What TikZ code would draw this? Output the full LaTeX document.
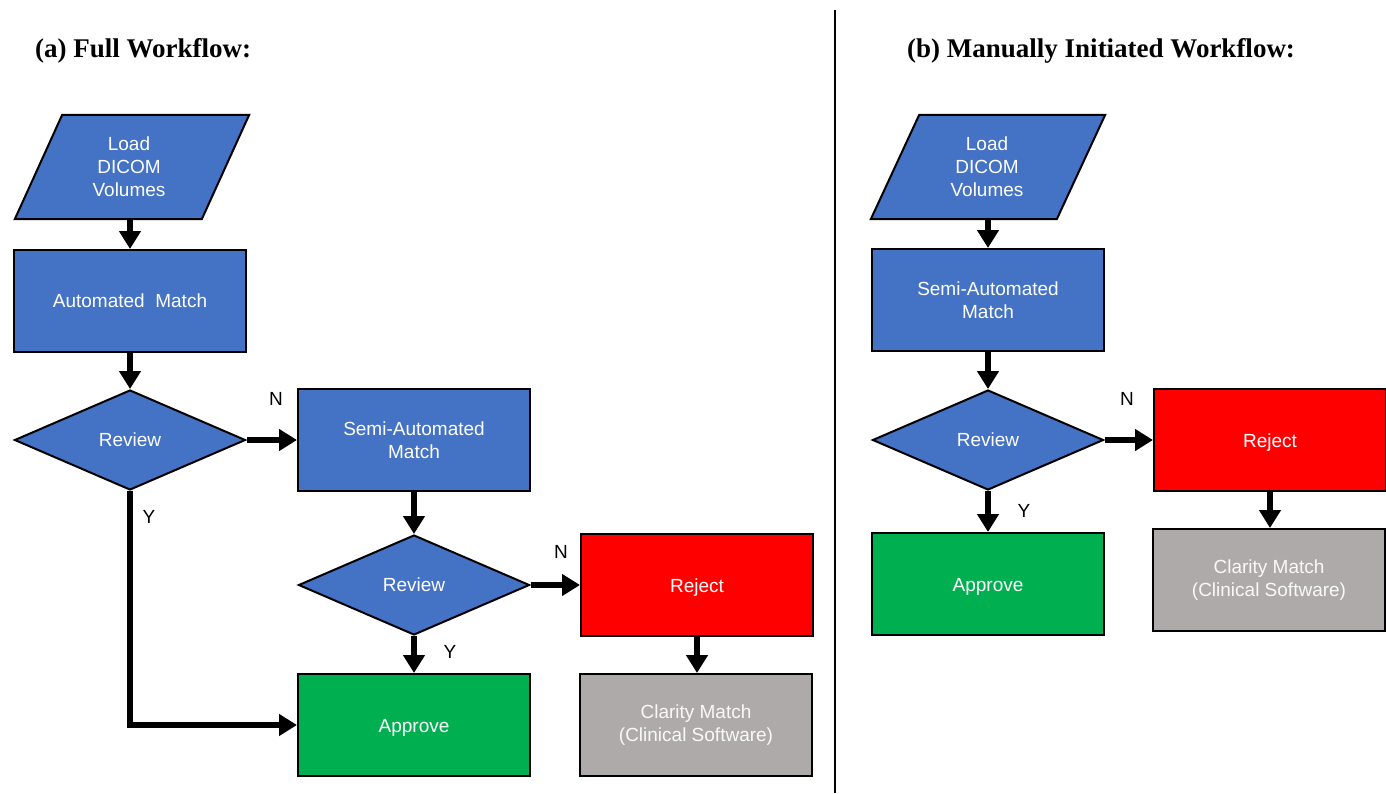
\documentclass[tikz,border=0pt]{standalone}
\usepackage{fontspec}
\setmainfont{Liberation Sans}
\newfontfamily\titlefont{Liberation Serif}
\usetikzlibrary{arrows.meta,shapes.geometric}
\definecolor{fblue}{HTML}{4472C4}
\definecolor{fgreen}{HTML}{00B050}
\definecolor{fred}{HTML}{FF0000}
\definecolor{fgray}{HTML}{AEAAAA}
\newcommand{\onel}[1]{\raisebox{-7pt}[0pt][0pt]{#1}}
\begin{document}
\begin{tikzpicture}[x=1pt,y=-1pt,
  txt/.style={font=\fontsize{19}{23}\selectfont, text=white, align=center},
  box/.style={txt, draw=black, line width=2pt, rectangle, inner sep=0pt, minimum width=232pt, minimum height=102pt},
  bluebox/.style={box, fill=fblue},
  greenbox/.style={box, fill=fgreen},
  redbox/.style={box, fill=fred},
  graybox/.style={box, fill=fgray, text=white!95!gray},
  decision/.style={txt, draw=black, line width=2pt, diamond, inner sep=0pt, fill=fblue, minimum width=231pt, minimum height=100pt},
  iobox/.style={txt, inner sep=0pt, minimum width=234pt, minimum height=104pt},
  para/.style={draw=black, line width=2pt, fill=fblue, line join=miter},
  flow/.style={line width=6pt, -{Triangle[width=21pt,length=18pt]}},
  lbl/.style={font=\fontsize{19}{22}\selectfont, text=black, inner sep=0pt},
  ttl/.style={font=\titlefont\bfseries\fontsize{27}{30}\selectfont, anchor=west, inner sep=0pt}
]
\useasboundingbox (0,0) rectangle (1386,793);

% titles and divider
\node[ttl] (ta) at (35,51) {(a) Full Workflow:};
\node[ttl] (tb) at (907,51) {(b) Manually Initiated Workflow:};
\coordinate (dtop) at (835,10);
\coordinate (dbot) at (835,793);
\draw[line width=2pt] (dtop) -- (dbot);

% ---------- (a) ----------
\node[iobox] (load) at (132,167) {};
\draw[para] (load.south west) -- ++(187,0) -- (load.north east) -- ++(-187,0) -- cycle;
\node[txt] (loadt) at (129,167) {Load\\DICOM\\Volumes};
\node[bluebox] (auto) at (130,301) {Automated~~Match};
\node[decision] (rev1) at (130,440) {Review};
\node[bluebox] (semi) at (414,440) {Semi-Automated\\Match};
\node[decision] (rev2) at (414,585) {Review};
\node[redbox] (rej) at (697,585) {\onel{Reject}};
\node[greenbox] (appr) at (414,725) {\onel{Approve}};
\node[graybox] (clar) at (696,725) {Clarity Match\\(Clinical Software)};

\draw[flow] (load.south -| auto.north) -- (auto.north);
\draw[flow] (auto.south) -- (rev1.north);
\draw[flow] (rev1.east) -- (semi.west);
\draw[flow] (semi.south) -- (rev2.north);
\draw[flow] (rev2.east) -- (rej.west);
\draw[flow] (rev2.south) -- (appr.north);
\draw[flow] (rej.south) -- (clar.north -| rej.south);
\draw[flow] (rev1.south) |- (appr.west);

\node[lbl] (n1) at (276,399) {N};
\node[lbl] (y1) at (149,517) {Y};
\node[lbl] (n2) at (561,552) {N};
\node[lbl] (y2) at (450,652) {Y};

% ---------- (b) ----------
\node[iobox] (loadb) at (988,167) {};
\draw[para] (loadb.south west) -- ++(186,0) -- (loadb.north east) -- ++(-186,0) -- cycle;
\node[txt] (loadbt) at (987,167) {Load\\DICOM\\Volumes};
\node[bluebox] (semib) at (988,300) {Semi-Automated\\Match};
\node[decision] (revb) at (988,440) {Review};
\node[redbox] (rejb) at (1270,440) {\onel{Reject}};
\node[greenbox] (apprb) at (988,584) {\onel{Approve}};
\node[graybox] (clarb) at (1269,580) {Clarity Match\\(Clinical Software)};

\draw[flow] (loadb.south -| semib.north) -- (semib.north);
\draw[flow] (semib.south) -- (revb.north);
\draw[flow] (revb.east) -- (rejb.west);
\draw[flow] (revb.south) -- (apprb.north);
\draw[flow] (rejb.south) -- (clarb.north -| rejb.south);

\node[lbl] (nb) at (1127,399) {N};
\node[lbl] (yb) at (1024,511) {Y};
\end{tikzpicture}
\end{document}
